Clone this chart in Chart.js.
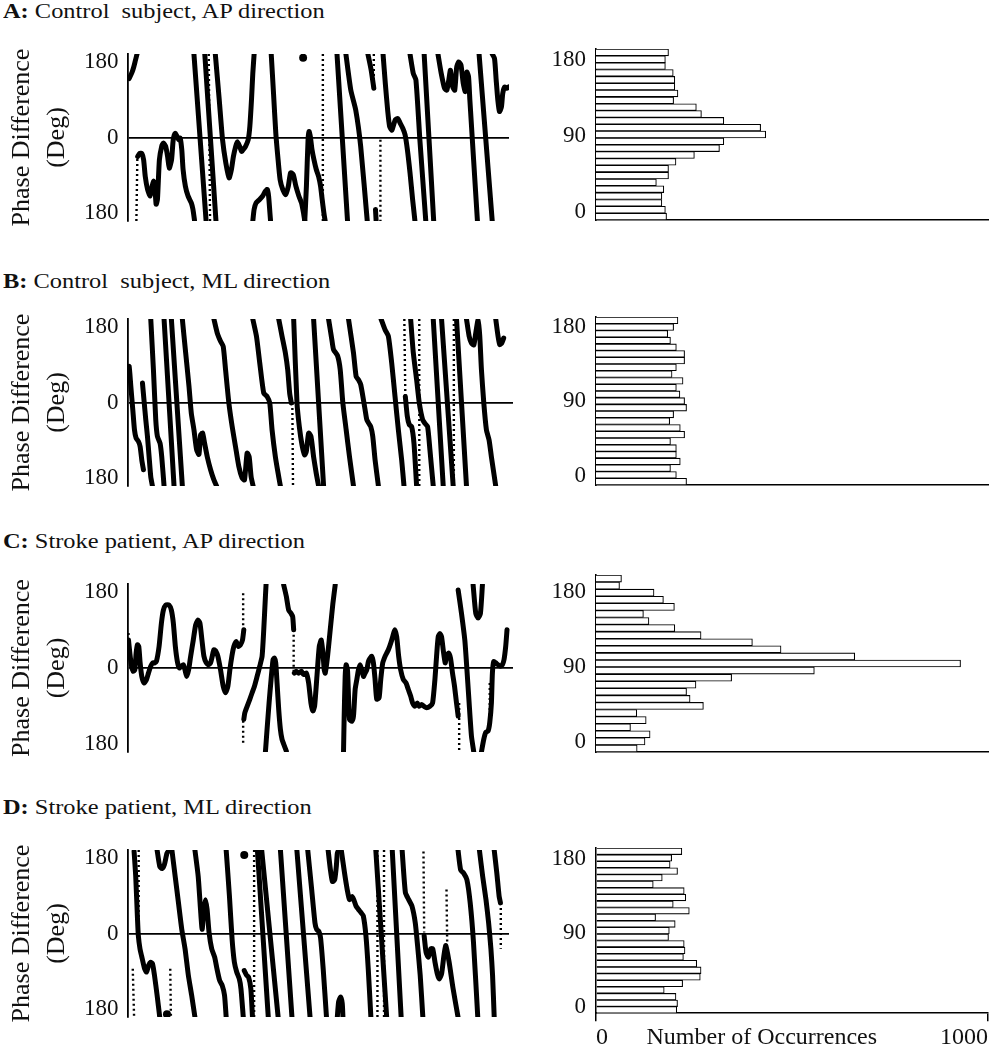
<!DOCTYPE html>
<html><head><meta charset="utf-8">
<script src="https://cdn.jsdelivr.net/npm/chart.js@4.4.1/dist/chart.umd.min.js"></script>
<style>
html,body{margin:0;padding:0;background:#fff;width:993px;height:1050px;overflow:hidden;position:relative;}
.title{position:absolute;left:3px;font-family:'Liberation Serif','Times New Roman',serif;font-size:20px;line-height:20px;color:#111;transform-origin:0 0;transform:scaleX(1.22);white-space:pre;}
canvas{position:absolute;}
</style></head><body>
<div class="title" style="top:1px"><b>A:</b> Control  subject, AP direction</div>
<div class="title" style="top:271px"><b>B:</b> Control  subject, ML direction</div>
<div class="title" style="top:531px"><b>C:</b> Stroke patient, AP direction</div>
<div class="title" style="top:797px"><b>D:</b> Stroke patient, ML direction</div>

<canvas id="lA" width="521" height="217" style="left:-8px;top:29px"></canvas>
<canvas id="lB" width="521" height="217" style="left:-8px;top:294px"></canvas>
<canvas id="lC" width="521" height="218" style="left:-8px;top:559px"></canvas>
<canvas id="lD" width="521" height="217" style="left:-8px;top:825px"></canvas>
<canvas id="hA" width="450" height="221" style="left:540px;top:24px"></canvas>
<canvas id="hB" width="450" height="218" style="left:540px;top:292px"></canvas>
<canvas id="hC" width="450" height="227" style="left:540px;top:550px"></canvas>
<canvas id="hD" width="450" height="231" style="left:540px;top:823px"></canvas>
<script>
// ---------- tick labels / categories ----------
const phaseTicks = [-180, 0, 180];
const histTicks = [0, 90, 180];
const occTicks = [0, 1000];
const occTitle = 'Number of Occurrences';
const yTitle = ['Phase Difference', '(Deg)'];
const histBins = ['1','2','3','4','5','6','7','8','9','10','11','12','13','14','15','16','17','18','19','20','21','22','23','24','25'];

// ---------- histogram counts (top bin first) ----------
const ctrlAP_hist = [185,177,177,197,201,201,209,198,256,269,326,420,433,326,315,251,204,185,185,154,173,168,168,177,180];
const ctrlML_hist = [209,198,183,190,205,226,226,205,194,222,205,214,226,231,198,188,215,226,190,205,205,215,190,205,231];
const strokeAP_hist = [65,60,148,172,200,121,135,201,268,399,472,660,930,557,346,255,231,240,274,104,128,88,138,125,105];
const strokeML_hist = [219,193,189,208,169,146,225,229,197,238,152,202,187,185,225,227,223,257,268,266,221,174,204,208,206];

// ---------- phase difference traces: [time, deg] segments ----------
const ctrlAP_trace = [
 [[0.5,127],[1.4,141],[1.9,152],[2.4,166],[2.9,180]],
 [[3.1,-41],[3.7,-34],[4.4,-35],[4.9,-48],[5.4,-84],[6.1,-112],[6.9,-126],[7.5,-105],[7.9,-94],[8.3,-105],[8.7,-144],[9.1,-134],[9.7,-48],[10.4,-19],[10.9,-12],[11.6,-19],[12.2,-41],[12.7,-66],[13.4,-48],[13.9,-5],[14.5,9],[15.1,2],[15.6,-5],[16.0,-1],[16.5,-26],[16.9,-69],[17.6,-105],[18.4,-126],[19.4,-141],[19.9,-155],[20.4,-180]],
 [[20.2,180],[23.9,-180]],
 [[23.5,180],[26.9,-180]],
 [[26.7,180],[27.9,81],[28.9,-5],[29.9,-55],[30.9,-87],[31.6,-69],[32.2,-41],[32.9,-19],[33.4,-9],[34.1,-19],[34.7,-30],[35.2,-26],[35.9,-19],[36.7,-5],[37.2,24],[37.7,81],[38.1,138],[38.5,180]],
 [[38.1,-180],[38.5,-155],[39.1,-141],[40.1,-134],[41.1,-126],[41.9,-116],[42.5,-112],[42.9,-126],[43.3,-162],[43.5,-180]],
 [[43.7,180],[44.4,95],[45.1,9],[45.7,-41],[46.4,-91],[47.2,-112],[48.1,-123],[48.9,-105],[49.6,-76],[50.4,-80],[51.2,-105],[52.1,-126],[52.9,-141],[53.5,-162],[53.9,-180]],
 [[53.9,-180],[54.4,-105],[54.9,-5],[55.2,13],[55.6,2],[56.1,-26],[56.7,-48],[57.4,-69],[58.1,-84],[58.7,-105],[59.2,-134],[59.7,-162],[60.1,-180]],
 [[63.7,180],[66.9,-180]],
 [[66.4,180],[67.9,102],[69.4,59],[70.9,-19],[72.9,-180]],
 [[73.1,180],[74.1,145],[74.9,106]],
 [[75.4,-155],[75.6,-180]],
 [[77.7,180],[78.4,116],[79.1,59],[79.7,24],[80.4,16],[81.4,38],[82.2,41],[82.9,31],[83.7,20],[84.4,6],[85.1,-26],[85.9,-76],[86.7,-134],[87.4,-180]],
 [[85.9,180],[86.9,138],[87.7,124],[88.9,-5],[90.7,-180]],
 [[90.2,180],[93.1,-180]],
 [[94.4,180],[95.4,138],[96.4,106],[97.1,102],[97.7,124],[98.2,145],[98.9,109],[99.5,102],[100.1,152],[100.7,163],[101.4,156],[102.1,116],[102.7,99],[103.2,141],[103.7,131],[104.1,81],[106.4,-180]],
 [[106.9,180],[110.9,-180]],
 [[110.9,180],[111.6,170],[112.1,124],[112.6,81],[113.1,56],[113.7,66],[114.1,95],[114.7,109],[115.4,106],[115.9,109]]
];
const ctrlAP_dotted = [
 [[2.7,-180],[3.0,-41]], [[24.7,180],[25.1,-180]], [[59.4,180],[59.4,-180]], [[74.9,180],[74.9,106]], [[76.9,-5],[76.9,-180]]
];
const ctrlAP_dots = [[53.4,172]];

const ctrlML_trace = [
 [[0.2,49],[0.5,78],[1.0,35],[1.6,-16],[2.1,-59],[2.6,-77],[3.3,-84],[3.8,-95],[4.3,-124],[4.8,-145]],
 [[4.5,42],[5.0,2],[5.5,-37],[6.0,-73],[6.5,-117],[7.0,-160],[7.5,-180]],
 [[7.0,180],[7.8,71],[8.5,-37],[9.0,-73],[9.8,-88],[10.3,-117],[11.0,-180]],
 [[11.0,180],[14.0,-180]],
 [[13.2,180],[16.5,-180]],
 [[16.5,180],[17.5,107],[18.5,35],[19.2,-23],[20.0,-59],[20.8,-102],[21.5,-112],[22.0,-70],[22.6,-66],[23.2,-88],[24.0,-117],[25.0,-145],[26.0,-167],[26.8,-180]],
 [[26.0,180],[27.0,150],[28.0,132],[28.8,121],[29.5,71],[30.5,-1],[31.5,-52],[32.5,-95],[33.5,-138],[34.5,-163],[35.2,-167],[36.0,-109],[36.6,-117],[37.2,-160],[37.8,-180]],
 [[37.7,180],[38.8,143],[39.8,85],[41.0,20],[42.0,13],[42.8,-1],[43.5,-59],[44.5,-117],[45.5,-160],[46.0,-180]],
 [[45.5,180],[46.5,143],[47.5,107],[48.2,71],[48.8,20],[49.3,-1]],
 [[50.0,180],[51.0,-1],[51.7,-52],[52.5,-91],[53.3,-113],[53.8,-106],[54.5,-66],[55.2,-73],[56.0,-117],[56.8,-153],[57.5,-180]],
 [[56.0,180],[59.0,-180]],
 [[60.5,180],[61.5,135],[62.0,114],[63.2,101],[64.0,71],[64.8,-1],[65.8,-59],[66.8,-117],[68.0,-180]],
 [[66.5,180],[68.0,107],[68.8,56],[69.5,49],[70.2,38],[71.5,-16],[72.0,-37],[72.6,-45],[73.2,-52],[73.8,-73],[74.5,-124],[75.5,-180]],
 [[76.3,180],[77.5,157],[78.5,143],[79.5,85],[80.5,13],[81.5,-59],[82.5,-124],[83.2,-180]],
 [[83.6,13],[84.2,-30],[84.8,-48],[85.5,-52],[86.2,-88],[87.0,-180]],
 [[85.2,180],[86.0,107],[87.0,49],[87.8,-1],[88.8,-37],[89.5,-45],[90.3,-52],[91.0,-102],[92.0,-180]],
 [[92.0,180],[95.0,-180]],
 [[94.5,180],[98.0,-180]],
 [[99.0,180],[102.0,-180]],
 [[102.0,180],[102.8,143],[103.5,128],[104.2,124],[104.8,150],[105.5,178],[106.0,143],[106.5,71],[107.2,0],[108.0,-59],[108.8,-81],[109.5,-117],[110.8,-180]],
 [[110.8,180],[111.5,143],[112.0,125],[112.6,128],[113.2,139]]
];
const ctrlML_dotted = [
 [[49.6,-1],[49.8,-180]], [[83.3,180],[83.6,13]], [[87.8,180],[87.8,-180]], [[98.2,180],[98.2,-180]]
];
const ctrlML_dots = [];

const strokeAP_trace = [
 [[0.3,60],[0.7,32],[1.2,4],[1.7,-7],[2.2,-4],[2.6,32],[3.0,50],[3.4,46],[3.8,11],[4.3,-18],[5.0,-32],[5.7,-25],[6.3,-11],[7.0,4],[7.6,11],[8.2,11],[8.7,14],[9.5,46],[10.2,96],[10.8,124],[11.5,135],[12.5,135],[13.2,124],[13.8,96],[14.4,46],[15.0,14],[15.6,0],[16.2,4],[16.8,7],[17.3,-4],[17.8,-18],[18.4,-4],[19.0,25],[19.8,60],[20.5,92],[21.2,103],[21.8,96],[22.4,60],[23.0,25],[23.7,11],[24.4,7],[25.0,11],[25.5,25],[26.0,39],[26.6,36],[27.2,25],[28.0,-4],[28.8,-39],[29.5,-53],[30.2,-39],[30.8,-4],[31.4,25],[32.0,46],[32.7,57],[33.4,46],[34.0,50],[34.6,60],[35.0,82]],
 [[35.0,-110],[35.3,-96],[36.0,-82],[36.8,-67],[37.5,-53],[38.2,-39],[39.0,-18],[39.8,4],[40.5,25],[41.0,82],[41.5,153],[41.7,180]],
 [[41.5,-180],[42.0,-131],[42.6,-75],[43.2,-25],[43.8,18],[44.2,21],[44.6,11],[45.0,-32],[45.5,-89],[46.0,-131],[46.5,-153],[47.0,-163],[47.8,-178]],
 [[47.0,178],[47.8,153],[48.5,124],[49.2,117],[49.7,110],[50.0,82]],
 [[50.2,-11],[50.8,-7],[51.5,-11],[52.3,-7],[53.0,-14],[53.8,-11],[54.5,-32],[55.2,-75],[55.8,-92],[56.3,-82],[57.0,-18],[57.7,46],[58.3,60],[58.8,32],[59.2,-4],[59.5,-11],[60.2,25],[61.0,82],[61.8,138],[62.5,178]],
 [[65.0,-180],[65.2,-103],[65.5,-18],[65.8,7],[66.2,-4],[66.5,-60],[66.8,-110],[67.5,-114],[68.0,-103],[68.5,-46],[69.0,-25],[69.5,-4],[70.0,7],[70.5,-4],[71.0,-18],[71.5,-11],[72.0,-4],[72.5,14],[73.0,21],[73.5,25],[74.0,11],[74.5,-25],[75.0,-67],[75.7,-64],[76.2,-25],[76.8,11],[77.5,25],[78.0,32],[78.5,39],[79.2,53],[79.8,67],[80.4,82],[81.0,67],[81.6,25],[82.2,-4],[83.0,-25],[83.8,-32],[84.5,-46],[85.2,-60],[85.8,-75],[86.5,-82],[87.2,-75],[87.8,-82],[88.5,-78],[89.2,-82],[90.0,-85],[91.0,-82],[91.8,-75],[92.5,-25],[93.0,25],[93.5,67],[94.0,74],[94.5,67],[95.0,39],[95.6,11],[96.0,25],[96.6,32],[97.2,21],[97.8,-11],[98.4,-39],[99.0,-75],[99.5,-103]],
 [[99.5,167],[100.5,117],[101.5,60],[102.0,11],[102.8,-75],[103.5,-146],[104.2,-180]],
 [[104.0,178],[104.8,117],[105.5,107],[106.2,117],[106.8,178]],
 [[106.5,-180],[107.2,-153],[107.8,-138],[108.5,-135],[109.0,-117],[109.5,-75],[109.8,-11],[110.2,14],[110.8,11],[111.5,7],[112.2,4],[112.8,7],[113.3,18],[113.8,46],[114.2,82]]
];
const strokeAP_dotted = [
 [[34.8,160],[34.8,82]], [[34.8,-160],[34.8,-110]], [[50.0,82],[50.0,-11]], [[99.8,-75],[99.8,-180]], [[109.0,-32],[109.0,-131]], [[0.3,60],[0.3,75]]
];
const strokeAP_dots = [];

const strokeML_trace = [
 [[2.0,177],[2.5,123],[3.0,38],[3.3,-5],[3.8,-33],[4.5,-55],[5.2,-76],[5.8,-83],[6.4,-69],[7.0,-62],[7.6,-65],[8.2,-90],[9.0,-133],[9.8,-180]],
 [[9.0,180],[9.8,145],[10.5,140],[11.2,148],[12.0,173],[12.7,180]],
 [[13.5,180],[14.5,123],[15.5,66],[16.5,9],[17.5,-33],[18.5,-90],[19.5,-133],[20.5,-180]],
 [[20.5,180],[21.5,123],[22.2,52],[22.7,9],[23.2,52],[23.7,73],[24.2,52],[24.8,2],[25.6,-33],[26.5,-51],[27.2,-76],[28.0,-101],[28.8,-112],[29.5,-133],[30.0,-180]],
 [[30.0,180],[31.0,80],[31.8,-12],[32.5,-62],[33.2,-83],[34.0,-98],[34.5,-119],[35.2,-180]],
 [[35.5,-80],[36.2,-90],[36.8,-94],[37.5,-119],[38.0,-180]],
 [[39.5,180],[42.8,-180]],
 [[40.8,180],[45.8,-180]],
 [[46.5,180],[50.0,-180]],
 [[51.5,180],[55.5,-180]],
 [[54.8,180],[56.0,95],[57.0,23],[57.5,9],[58.2,4],[58.7,-9],[59.5,-76],[60.5,-180]],
 [[61.0,180],[61.7,137],[62.3,112],[63.0,116],[63.5,145],[63.8,173],[64.2,180]],
 [[63.8,-180],[64.2,-147],[64.8,-137],[65.3,-151],[65.5,-180]],
 [[65.0,180],[66.0,130],[66.8,95],[67.5,73],[68.3,80],[68.8,73],[69.5,59],[70.2,52],[71.0,45],[71.7,38],[72.5,-5],[73.2,-76],[74.0,-180]],
 [[75.5,180],[78.8,-180]],
 [[80.5,180],[83.2,-180]],
 [[83.5,180],[84.5,88],[85.5,73],[86.5,59],[87.5,23],[88.2,-26],[89.0,-90],[89.8,-180]],
 [[90.2,-5],[90.8,-41],[91.5,-51],[92.2,-33],[92.8,-33],[93.5,-62],[94.2,-87],[94.8,-98],[95.5,-87],[96.2,-48],[96.8,-26],[97.8,-62],[99.0,-119],[100.5,-180]],
 [[100.5,180],[101.3,137],[102.2,130],[103.2,116],[104.2,66],[105.2,-19],[106.5,-180]],
 [[107.0,180],[108.0,123],[109.0,73],[109.8,23],[110.5,-33],[111.0,-90],[111.5,-180]],
 [[111.5,180],[112.3,130],[113.0,80],[113.4,66]]
];
const strokeML_dotted = [
 [[1.6,-76],[2.0,-180]], [[3.4,180],[3.4,2]], [[13.0,-76],[13.2,-180]], [[38.5,180],[38.5,-180]], [[76.0,180],[76.0,-180]], [[78.0,180],[78.0,-180]], [[90.0,177],[90.2,2]], [[97.0,95],[97.2,-19]], [[113.5,66],[113.5,-33]]
];
const strokeML_dots = [[35.5,169],[12.0,-174]];

// ---------- rendering ----------
const FONT = "'Liberation Serif','Times New Roman',serif";
const INK = '#111';
const pts = seg => seg.map(p => ({x: p[0], y: p[1]}));

function phaseChart(id, traces, dotted, dots) {
  const datasets = [];
  traces.forEach(seg => datasets.push({type:'line', data: pts(seg), borderColor:'#000', borderWidth:5, tension:0.2,
    pointRadius:0, borderCapStyle:'round', borderJoinStyle:'round', fill:false, xAxisID:'x', yAxisID:'y'}));
  dotted.forEach(seg => datasets.push({type:'line', data: pts(seg), borderColor:'#000', borderWidth:2.4, borderDash:[2,3],
    tension:0, pointRadius:0, fill:false, xAxisID:'x', yAxisID:'y'}));
  if (dots.length) datasets.push({type:'scatter', data: pts(dots), pointRadius:4, pointBackgroundColor:'#000',
    pointBorderWidth:0, showLine:false, xAxisID:'x', yAxisID:'y'});
  new Chart(document.getElementById(id), {
    type:'line', data:{datasets},
    options:{
      responsive:false, animation:false, events:[],
      layout:{padding:{top:25,bottom:25,left:0,right:0}},
      plugins:{legend:{display:false}, tooltip:{enabled:false}},
      scales:{
        x:{type:'linear', min:0, max:116, display:false},
        y:{type:'linear', position:'left', min:-180, max:180, weight:0, offset:false,
           afterBuildTicks:s => { s.ticks = [{value:0}]; },
           ticks:{display:false},
           grid:{drawTicks:false, color:'#000', lineWidth:1.8},
           border:{display:true, color:'#000', width:1.8}},
        yl:{type:'linear', position:'left', min:-200, max:200, weight:1, offset:false,
           afterBuildTicks:s => { s.ticks = phaseTicks.map(v => ({value:v})); },
           ticks:{callback:v => String(Math.abs(v)), font:{family:FONT, size:23}, color:INK, padding:9},
           grid:{display:false, drawTicks:false, offset:false}, border:{display:false},
           title:{display:true, text:yTitle, font:{family:FONT, size:26, lineHeight:1.37}, color:INK, padding:{top:12,bottom:0}},
           afterFit:s => { s.width = 135.5; }}
      }
    }
  });
}

function histChart(id, values, range, showX) {
  const xScale = {type:'linear', position:'bottom', min:0, max:1000,
    border:{display:true, color:'#000', width:1.6}};
  if (showX) {
    const mid = 423;
    xScale.afterBuildTicks = s => { s.ticks = [{value:occTicks[0]},{value:mid},{value:occTicks[1]}]; };
    xScale.ticks = {autoSkip:false, maxRotation:0, align:'inner', font:{family:FONT, size:24}, color:INK, padding:2,
      callback:v => v === mid ? occTitle : String(v)};
    xScale.grid = {display:true, drawOnChartArea:false, drawTicks:true, tickLength:8, lineWidth:1.5,
      color:c => (c.tick && c.tick.value === mid) ? 'rgba(0,0,0,0)' : '#000'};
  } else {
    xScale.ticks = {display:false};
    xScale.grid = {display:false, drawTicks:false};
  }
  new Chart(document.getElementById(id), {
    type:'bar',
    data:{labels:histBins, datasets:[{data:values, backgroundColor:'#fff', borderColor:'#000', borderWidth:1.1,
      barPercentage:1, categoryPercentage:1, xAxisID:'x', yAxisID:'y'}]},
    options:{
      indexAxis:'y', responsive:false, animation:false, events:[],
      layout:{padding:{top:25, bottom:showX ? 0 : 25, left:0, right:2}},
      plugins:{legend:{display:false}, tooltip:{enabled:false}},
      scales:{
        y:{type:'category', position:'left', weight:0, ticks:{display:false},
           grid:{display:false, drawTicks:false}, border:{display:true, color:'#000', width:1.6}},
        yl:{type:'linear', position:'left', min:range[0], max:range[1], weight:1, offset:false,
           afterBuildTicks:s => { s.ticks = histTicks.map(v => ({value:v})); },
           ticks:{font:{family:FONT, size:23}, color:INK, padding:10},
           grid:{display:false, drawTicks:false, offset:false}, border:{display:false},
           afterFit:s => { s.width = 56; }},
        x:xScale
      }
    }
  });
}

phaseChart('lA', ctrlAP_trace, ctrlAP_dotted, ctrlAP_dots);
phaseChart('lB', ctrlML_trace, ctrlML_dotted, ctrlML_dots);
phaseChart('lC', strokeAP_trace, strokeAP_dotted, strokeAP_dots);
phaseChart('lD', strokeML_trace, strokeML_dotted, strokeML_dots);
histChart('hA', ctrlAP_hist, [-9.1, 193.5], false);
histChart('hB', ctrlML_hist, [-11.2, 192], false);
histChart('hC', strokeAP_hist, [-12, 200.4], false);
histChart('hD', strokeML_hist, [-7.2, 193.2], true);
</script>
</body></html>
